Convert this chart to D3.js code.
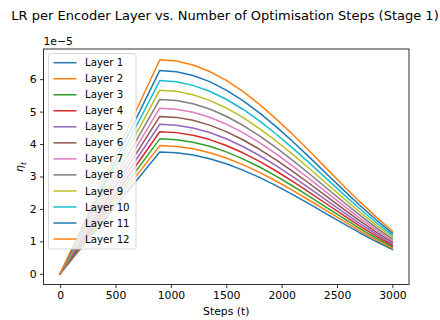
<!DOCTYPE html>
<html><head><meta charset="utf-8">
<script src="https://cdn.jsdelivr.net/npm/d3@7"></script>
<style>body{margin:0;background:#fff}svg{display:block;font-family:"DejaVu Sans",sans-serif}</style>
</head><body><svg id="c" width="440" height="320"></svg>
<script>
const steps = [0, 900, 1050, 1200, 1350, 1500, 1650, 1800, 1950, 2100, 2250, 2400, 2550, 2700, 2850, 3000];
const layerNames = ["Layer 1","Layer 2","Layer 3","Layer 4","Layer 5","Layer 6","Layer 7","Layer 8","Layer 9","Layer 10","Layer 11","Layer 12"];
// values in units of 1e-5
const layer1  = [0, 3.754, 3.731, 3.661, 3.547, 3.391, 3.197, 2.971, 2.716, 2.442, 2.154, 1.857, 1.562, 1.274, 1.002, 0.751];
const layer2  = [0, 3.952, 3.927, 3.854, 3.734, 3.570, 3.366, 3.127, 2.860, 2.571, 2.267, 1.955, 1.644, 1.341, 1.054, 0.790];
const layer3  = [0, 4.160, 4.134, 4.057, 3.930, 3.758, 3.543, 3.292, 3.010, 2.706, 2.387, 2.058, 1.731, 1.411, 1.110, 0.832];
const layer4  = [0, 4.379, 4.352, 4.270, 4.137, 3.956, 3.730, 3.465, 3.169, 2.849, 2.512, 2.167, 1.822, 1.486, 1.168, 0.876];
const layer5  = [0, 4.609, 4.580, 4.495, 4.355, 4.163, 3.925, 3.647, 3.335, 2.998, 2.644, 2.281, 1.918, 1.564, 1.230, 0.922];
const layer6  = [0, 4.852, 4.822, 4.732, 4.584, 4.383, 4.132, 3.839, 3.511, 3.156, 2.784, 2.401, 2.019, 1.646, 1.294, 0.970];
const layer7  = [0, 5.107, 5.075, 4.980, 4.825, 4.613, 4.350, 4.041, 3.695, 3.322, 2.930, 2.527, 2.125, 1.733, 1.363, 1.021];
const layer8  = [0, 5.376, 5.343, 5.243, 5.079, 4.856, 4.579, 4.254, 3.890, 3.497, 3.084, 2.660, 2.237, 1.824, 1.434, 1.075];
const layer9  = [0, 5.659, 5.624, 5.519, 5.347, 5.112, 4.820, 4.478, 4.095, 3.681, 3.247, 2.800, 2.355, 1.920, 1.510, 1.132];
const layer10 = [0, 5.957, 5.920, 5.809, 5.628, 5.381, 5.073, 4.714, 4.310, 3.875, 3.418, 2.948, 2.479, 2.021, 1.589, 1.191];
const layer11 = [0, 6.270, 6.231, 6.115, 5.924, 5.664, 5.340, 4.961, 4.537, 4.079, 3.597, 3.102, 2.609, 2.127, 1.673, 1.254];
const layer12 = [0, 6.600, 6.559, 6.436, 6.236, 5.962, 5.621, 5.223, 4.776, 4.293, 3.786, 3.266, 2.746, 2.239, 1.761, 1.320];
const xTicks = [0, 500, 1000, 1500, 2000, 2500, 3000];
const yTicks = [0, 1, 2, 3, 4, 5, 6];
const colors = ["#1f77b4","#ff7f0e","#2ca02c","#d62728","#9467bd","#8c564b","#e377c2","#7f7f7f","#bcbd22","#17becf","#1f77b4","#ff7f0e"];
const series = [layer1,layer2,layer3,layer4,layer5,layer6,layer7,layer8,layer9,layer10,layer11,layer12];

const svg = d3.select("#c");
const L = 43.5, R = 409, T = 49, B = 284.5;
const x = d3.scaleLinear().domain([-150, 3150]).range([L, R]);
const y = d3.scaleLinear().domain([-0.33, 6.93]).range([B, T]);

const line = d3.line().x((d,i)=>x(steps[i])).y(d=>y(d));
svg.append("g").selectAll("path").data(series).join("path")
  .attr("d", d=>line(d)).attr("fill","none")
  .attr("stroke",(d,i)=>colors[i]).attr("stroke-width",1.5)
  .attr("stroke-linejoin","round").attr("stroke-linecap","square");

// axes
const xa = svg.append("g").attr("transform",`translate(0,${B})`)
  .call(d3.axisBottom(x).tickValues(xTicks).tickSize(3.5).tickPadding(3.5).tickFormat(d3.format("d")));
const ya = svg.append("g").attr("transform",`translate(${L},0)`)
  .call(d3.axisLeft(y).tickValues(yTicks).tickSize(3.5).tickPadding(3.5).tickFormat(d3.format("d")));
[xa,ya].forEach(a=>{
  a.select(".domain").remove();
  a.selectAll("line").attr("stroke","#000").attr("stroke-width",0.8);
  a.selectAll("text").attr("font-size",10.8).attr("fill","#000").attr("font-family","DejaVu Sans");
});
svg.append("rect").attr("x",L).attr("y",T).attr("width",R-L).attr("height",B-T)
  .attr("fill","none").attr("stroke","#000").attr("stroke-width",0.8);

// legend
const lg = svg.append("g");
lg.append("rect").attr("x",48.5).attr("y",53.5).attr("width",87.5).attr("height",195.5)
  .attr("rx",2).attr("fill","#fff").attr("fill-opacity",0.8).attr("stroke","#cccccc").attr("stroke-width",0.8);
layerNames.forEach((n,i)=>{
  const yy = 62.7 + i*16.03;
  lg.append("line").attr("x1",53.5).attr("x2",76.5).attr("y1",yy).attr("y2",yy)
    .attr("stroke",colors[i]).attr("stroke-width",1.5);
  lg.append("text").attr("x",85).attr("y",yy).attr("dy","0.35em")
    .attr("font-size",10.2).text(n);
});

// texts
svg.append("text").attr("x",225).attr("y",20).attr("text-anchor","middle").attr("font-size",13).text("LR per Encoder Layer vs. Number of Optimisation Steps (Stage 1)");
svg.append("text").attr("x",L).attr("y",45).attr("font-size",10.8).text("1e\u22125");
svg.append("text").attr("x",(L+R)/2).attr("y",315).attr("text-anchor","middle").attr("font-size",10.8).text("Steps (t)");
const yl = svg.append("text").attr("transform","translate(23,167) rotate(-90)").attr("text-anchor","middle").attr("font-size",10.8).attr("font-style","italic");
yl.append("tspan").text("\u03b7");
yl.append("tspan").attr("font-size",7.5).attr("dy",2.5).text("t");
</script></body></html>
